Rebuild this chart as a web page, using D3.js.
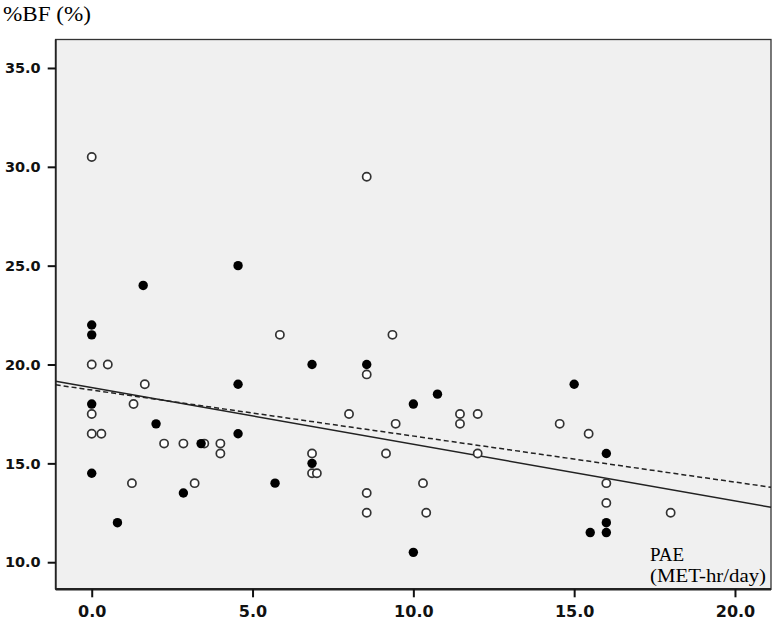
<!DOCTYPE html>
<html>
<head>
<meta charset="utf-8">
<script src="https://cdn.jsdelivr.net/npm/d3@7"></script>
<style>
  body { margin: 0; background: #fff; }
  .tick text { font-family: "DejaVu Sans", sans-serif; font-weight: bold; fill: #111; }
</style>
</head>
<body>
<svg width="774" height="623"></svg>
<script>
// filled dots (group 1): [PAE, %BF]
var filledX = [0, 0, 0, 0, 0.8, 1.6, 2.0, 2.85, 3.4, 4.55, 4.55, 4.55, 5.7, 6.85, 6.85, 8.55, 10.0, 10.75, 10.0, 15.0, 16.0, 16.0, 16.0, 15.5];
var filledY = [22.0, 21.5, 18.0, 14.5, 12.0, 24.0, 17.0, 13.5, 16.0, 25.0, 19.0, 16.5, 14.0, 20.0, 15.0, 20.0, 18.0, 18.5, 10.5, 19.0, 15.5, 12.0, 11.5, 11.5];

// open dots (group 2)
var openX = [0, 0, 0.5, 0, 0, 0.3, 1.65, 1.3, 1.25, 2.25, 2.85, 3.5, 4.0, 4.0, 3.2, 5.85, 8.55, 9.35, 8.55, 8.0, 9.45, 11.45, 11.45, 12.0, 12.0, 6.85, 6.85, 7.0, 9.15, 10.3, 8.55, 8.55, 10.4, 14.55, 15.45, 16.0, 16.0, 18.0];
var openY = [30.5, 20.0, 20.0, 17.5, 16.5, 16.5, 19.0, 18.0, 14.0, 16.0, 16.0, 16.0, 16.0, 15.5, 14.0, 21.5, 29.5, 21.5, 19.5, 17.5, 17.0, 17.5, 17.0, 17.5, 15.5, 15.5, 14.5, 14.5, 15.5, 14.0, 13.5, 12.5, 12.5, 17.0, 16.5, 14.0, 13.0, 12.5];

// fit lines: [intercept, slope]
var fitSolid = [18.83, -0.2864];
var fitDashed = [18.71, -0.2329];

var xTicks = [0, 5, 10, 15, 20];
var yTicks = [10, 15, 20, 25, 30, 35];

var svg = d3.select("svg");
var pLeft = 55.7, pRight = 771, pTop = 39.5, pBottom = 589.3;

var x = d3.scaleLinear().domain([-1.12, 21.12]).range([pLeft, pRight]);
var y = d3.scaleLinear().domain([8.63, 36.44]).range([pBottom, pTop]);

// plot background
svg.append("rect")
  .attr("x", pLeft).attr("y", pTop)
  .attr("width", pRight - pLeft).attr("height", pBottom - pTop)
  .attr("fill", "#f0f0f0")
  .attr("stroke", "#333").attr("stroke-width", 1.3);

// bottom and left edges are heavier
svg.append("line")
  .attr("x1", pLeft).attr("x2", pRight)
  .attr("y1", pBottom).attr("y2", pBottom)
  .attr("stroke", "#222").attr("stroke-width", 2.5);
svg.append("line")
  .attr("x1", pLeft).attr("x2", pLeft)
  .attr("y1", pTop).attr("y2", pBottom)
  .attr("stroke", "#222").attr("stroke-width", 1.8);

var yAxis = svg.append("g")
  .attr("transform", "translate(" + pLeft + ",0)")
  .call(d3.axisLeft(y).tickValues(yTicks).tickSize(8).tickPadding(7)
    .tickFormat(d3.format(".1f")));
yAxis.select(".domain").remove();
yAxis.selectAll(".tick line").attr("stroke", "#111").attr("stroke-width", 2);
yAxis.selectAll(".tick text").style("font-size", "14.5px");

var xAxis = svg.append("g")
  .attr("transform", "translate(0," + pBottom + ")")
  .call(d3.axisBottom(x).tickValues(xTicks).tickSize(8).tickPadding(8)
    .tickFormat(d3.format(".1f")));
xAxis.select(".domain").remove();
xAxis.selectAll(".tick line").attr("stroke", "#111").attr("stroke-width", 2);
xAxis.selectAll(".tick text").style("font-size", "16px");

// regression lines
function fitPoints(f) {
  return x.domain().map(function(v) { return [x(v), y(f[0] + f[1] * v)]; });
}
var lineGen = d3.line();
svg.append("path")
  .attr("d", lineGen(fitPoints(fitSolid)))
  .attr("fill", "none").attr("stroke", "#222").attr("stroke-width", 1.5);
svg.append("path")
  .attr("d", lineGen(fitPoints(fitDashed)))
  .attr("fill", "none").attr("stroke", "#222").attr("stroke-width", 1.5)
  .attr("stroke-dasharray", "5,3");

// dots
svg.append("g").selectAll("circle")
  .data(openX)
  .enter().append("circle")
  .attr("cx", function(d) { return x(d); })
  .attr("cy", function(d, i) { return y(openY[i]); })
  .attr("r", 4.1)
  .attr("fill", "#fff").attr("stroke", "#333").attr("stroke-width", 1.7);

svg.append("g").selectAll("circle")
  .data(filledX)
  .enter().append("circle")
  .attr("cx", function(d) { return x(d); })
  .attr("cy", function(d, i) { return y(filledY[i]); })
  .attr("r", 4.7)
  .attr("fill", "#000");

// labels
svg.append("text")
  .attr("x", 3).attr("y", 21)
  .attr("textLength", 88).attr("lengthAdjust", "spacingAndGlyphs")
  .style("font-family", "'Liberation Serif', serif").style("font-size", "20px")
  .text("%BF (%)");

var pae = svg.append("text")
  .style("font-family", "'Liberation Serif', serif").style("font-size", "19px");
pae.append("tspan").attr("x", 650).attr("y", 561).text("PAE");
pae.append("tspan").attr("x", 650).attr("y", 582)
  .attr("textLength", 116).attr("lengthAdjust", "spacingAndGlyphs")
  .text("(MET-hr/day)");
</script>
</body>
</html>
